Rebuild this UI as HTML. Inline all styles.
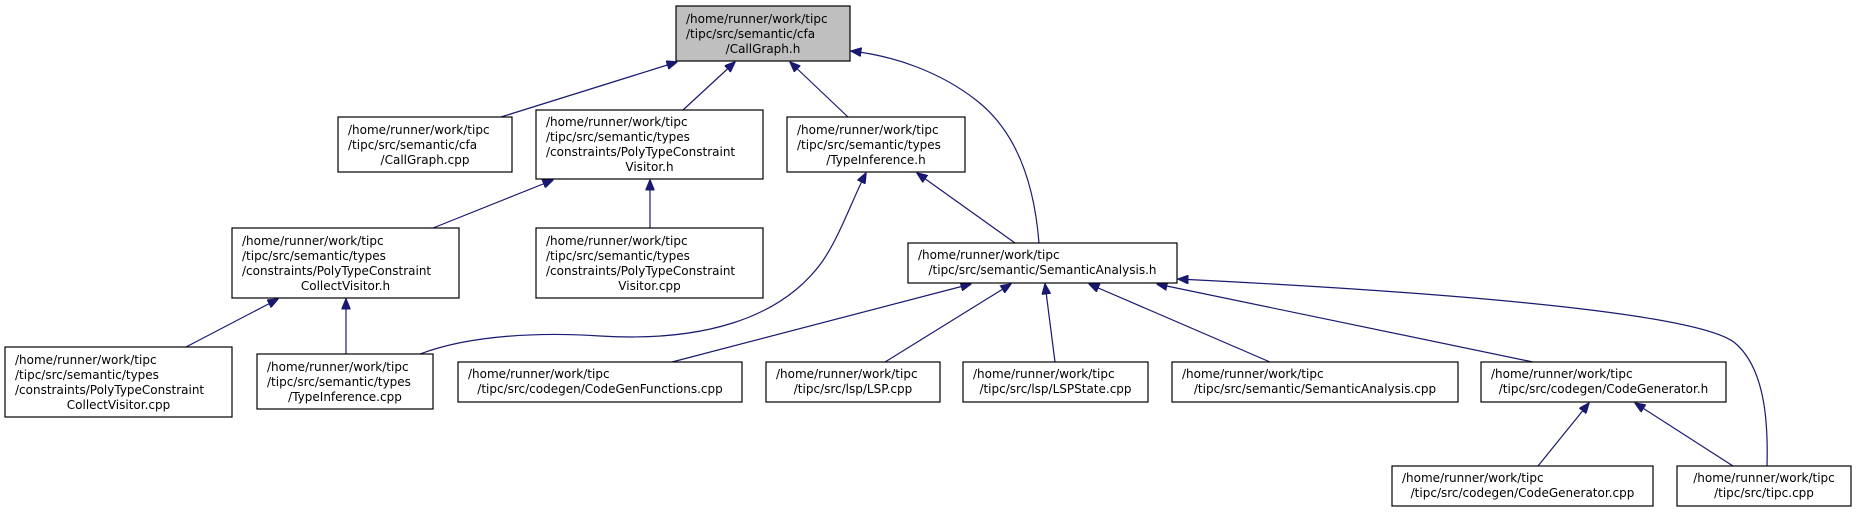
<!DOCTYPE html>
<html><head><meta charset="utf-8"><style>
html,body{margin:0;padding:0;background:#fff;}
svg{display:block;}
text{font-family:"DejaVu Sans","Liberation Sans",sans-serif;font-size:12px;fill:#000;}
</style></head><body>
<svg width="1856" height="512" viewBox="0 0 1856 512" xmlns="http://www.w3.org/2000/svg">
<defs>
<marker id="a" markerWidth="11" markerHeight="9" refX="10.5" refY="4.5" orient="auto" markerUnits="userSpaceOnUse">
<path d="M0,0 L11,4.5 L0,9 Z" fill="#191970" stroke="#191970"/>
</marker>
</defs>
<g fill="none" stroke="#191970" stroke-width="1.2" marker-end="url(#a)">
<path d="M501,117 L677,62"/>
<path d="M683,110 L735,62"/>
<path d="M848,117 L790,62"/>
<path d="M1039,243 C1034,180 1015,130 976,100 C940,72 895,56 851,51"/>
<path d="M433,228 L553,180"/>
<path d="M650,228 L650,180"/>
<path d="M420,354 C470,335 540,332 600,336 C700,342 780,320 822,262 C840,236 852,200 866,173"/>
<path d="M1015,243 L917,173"/>
<path d="M186,347 L278,299"/>
<path d="M346,354 L346,299"/>
<path d="M672,362 L971,284"/>
<path d="M885,362 L1011,284"/>
<path d="M1055,362 L1045,284"/>
<path d="M1270,362 L1089,284"/>
<path d="M1533,362 L1157,284"/>
<path d="M1767,466 C1768,430 1767,370 1735,343 C1695,310 1400,290 1178,279"/>
<path d="M1538,466 L1589,403"/>
<path d="M1733,466 L1635,403"/>
</g>
<g stroke="#000" stroke-width="1.2">
<rect x="676" y="6" width="174" height="55" fill="#bfbfbf"/>
<rect x="338" y="117" width="174" height="55" fill="#fff"/>
<rect x="536" y="110" width="227" height="69" fill="#fff"/>
<rect x="787" y="117" width="178" height="55" fill="#fff"/>
<rect x="232" y="228" width="227" height="70" fill="#fff"/>
<rect x="536" y="228" width="227" height="70" fill="#fff"/>
<rect x="908" y="243" width="269" height="40" fill="#fff"/>
<rect x="5" y="347" width="227" height="70" fill="#fff"/>
<rect x="257" y="354" width="176" height="55" fill="#fff"/>
<rect x="458" y="362" width="284" height="40" fill="#fff"/>
<rect x="766" y="362" width="174" height="40" fill="#fff"/>
<rect x="963" y="362" width="185" height="40" fill="#fff"/>
<rect x="1172" y="362" width="286" height="40" fill="#fff"/>
<rect x="1481" y="362" width="245" height="40" fill="#fff"/>
<rect x="1392" y="466" width="261" height="40" fill="#fff"/>
<rect x="1677" y="466" width="174" height="40" fill="#fff"/>
</g>
<g>
<text x="686" y="23">/home/runner/work/tipc</text>
<text x="686" y="38">/tipc/src/semantic/cfa</text>
<text x="763" y="53" text-anchor="middle">/CallGraph.h</text>

<text x="348" y="134">/home/runner/work/tipc</text>
<text x="348" y="149">/tipc/src/semantic/cfa</text>
<text x="425" y="164" text-anchor="middle">/CallGraph.cpp</text>

<text x="546" y="126">/home/runner/work/tipc</text>
<text x="546" y="141">/tipc/src/semantic/types</text>
<text x="546" y="156">/constraints/PolyTypeConstraint</text>
<text x="649.5" y="171" text-anchor="middle">Visitor.h</text>

<text x="797" y="134">/home/runner/work/tipc</text>
<text x="797" y="149">/tipc/src/semantic/types</text>
<text x="876" y="164" text-anchor="middle">/TypeInference.h</text>

<text x="242" y="245">/home/runner/work/tipc</text>
<text x="242" y="260">/tipc/src/semantic/types</text>
<text x="242" y="275">/constraints/PolyTypeConstraint</text>
<text x="345.5" y="290" text-anchor="middle">CollectVisitor.h</text>

<text x="546" y="245">/home/runner/work/tipc</text>
<text x="546" y="260">/tipc/src/semantic/types</text>
<text x="546" y="275">/constraints/PolyTypeConstraint</text>
<text x="649.5" y="290" text-anchor="middle">Visitor.cpp</text>

<text x="918" y="259">/home/runner/work/tipc</text>
<text x="1042.5" y="274" text-anchor="middle">/tipc/src/semantic/SemanticAnalysis.h</text>

<text x="15" y="364">/home/runner/work/tipc</text>
<text x="15" y="379">/tipc/src/semantic/types</text>
<text x="15" y="394">/constraints/PolyTypeConstraint</text>
<text x="118.5" y="409" text-anchor="middle">CollectVisitor.cpp</text>

<text x="267" y="371">/home/runner/work/tipc</text>
<text x="267" y="386">/tipc/src/semantic/types</text>
<text x="345" y="401" text-anchor="middle">/TypeInference.cpp</text>

<text x="468" y="378">/home/runner/work/tipc</text>
<text x="600" y="393" text-anchor="middle">/tipc/src/codegen/CodeGenFunctions.cpp</text>

<text x="776" y="378">/home/runner/work/tipc</text>
<text x="853" y="393" text-anchor="middle">/tipc/src/lsp/LSP.cpp</text>

<text x="973" y="378">/home/runner/work/tipc</text>
<text x="1055.5" y="393" text-anchor="middle">/tipc/src/lsp/LSPState.cpp</text>

<text x="1182" y="378">/home/runner/work/tipc</text>
<text x="1315" y="393" text-anchor="middle">/tipc/src/semantic/SemanticAnalysis.cpp</text>

<text x="1491" y="378">/home/runner/work/tipc</text>
<text x="1603.5" y="393" text-anchor="middle">/tipc/src/codegen/CodeGenerator.h</text>

<text x="1402" y="482">/home/runner/work/tipc</text>
<text x="1522.5" y="497" text-anchor="middle">/tipc/src/codegen/CodeGenerator.cpp</text>

<text x="1764" y="482" text-anchor="middle">/home/runner/work/tipc</text>
<text x="1764" y="497" text-anchor="middle">/tipc/src/tipc.cpp</text>
</g>
</svg>
</body></html>
